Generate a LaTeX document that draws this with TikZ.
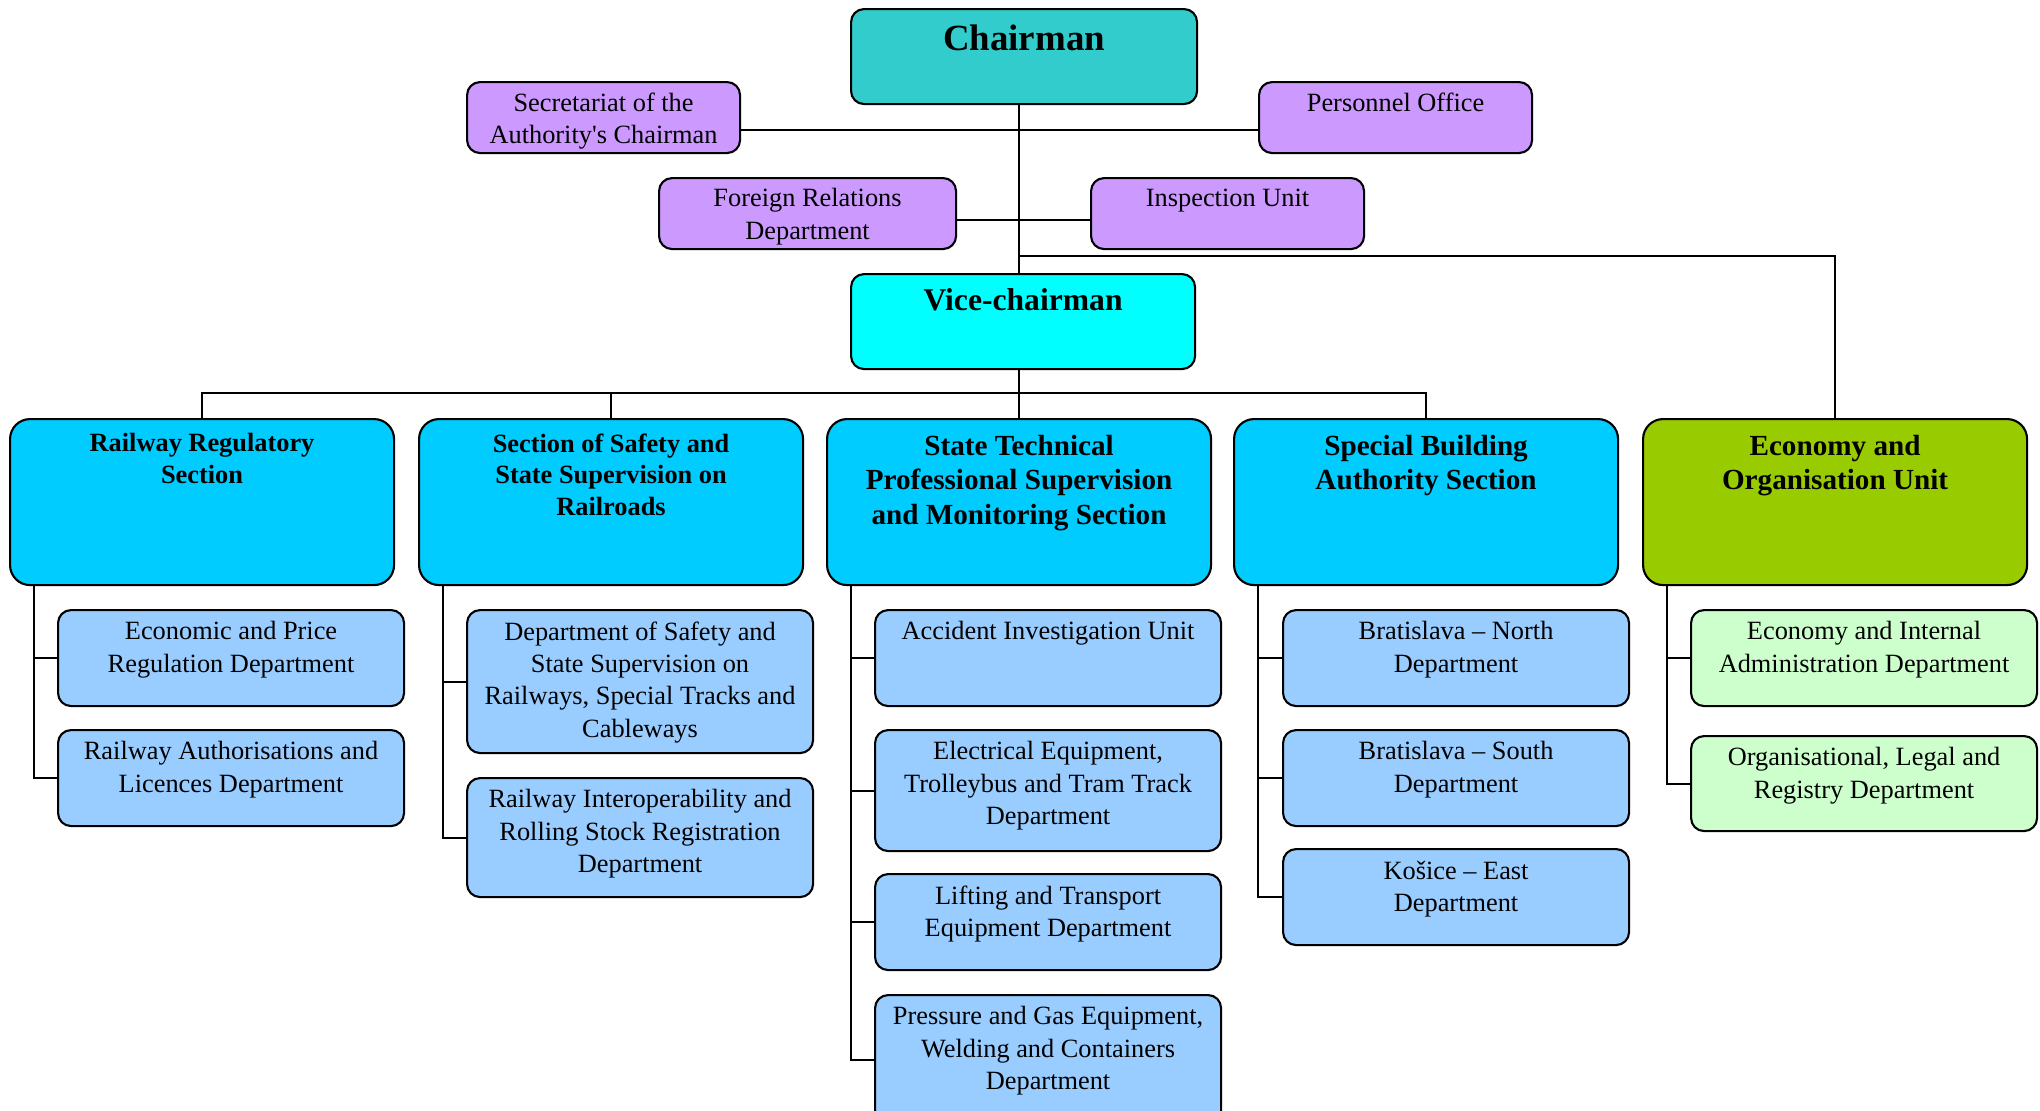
\documentclass[tikz,border=0pt]{standalone}
\usepackage{fontspec}
\setmainfont{Liberation Serif}[Ligatures=TeXOff]
\usetikzlibrary{calc}

\newlength{\px}\setlength{\px}{0.1mm}
% box text: [top gap]{width}{height}{text}, set at the top of the box
\newcommand{\blk}[4][3.3pt]{\parbox[c][#3\px][t]{#2\px}{\centering\vspace*{#1}#4}}

\definecolor{chaircol}{HTML}{33CCCC}
\definecolor{vicecol}{HTML}{00FFFF}
\definecolor{staffcol}{HTML}{CC99FF}
\definecolor{sectcol}{HTML}{00CCFF}
\definecolor{econcol}{HTML}{99CC00}
\definecolor{deptcol}{HTML}{99CCFF}
\definecolor{ecdeptcol}{HTML}{CCFFCC}

\begin{document}
\begin{tikzpicture}
	[x=0.1mm, y=-0.1mm,
	box/.style={draw, line width=0.6pt, inner sep=0, anchor=north west, rounded corners=1.3mm},
	staff/.style={box, fill=staffcol, font=\fontsize{7.5}{9.2}\selectfont},
	sect/.style={box, fill=sectcol, rounded corners=2mm, font=\bfseries\fontsize{7.5}{9}\selectfont},
	bigsect/.style={sect, font=\bfseries\fontsize{8.3}{9.8}\selectfont},
	dept/.style={box, fill=deptcol, font=\fontsize{7.5}{9.2}\selectfont},
	link/.style={line width=0.6pt}]
	\path[use as bounding box, clip] (0,0) rectangle (2040,1110);

	% top management
	\node (chair) [box, fill=chaircol, font=\bfseries\fontsize{10.5}{12}\selectfont] at (850,8)
		{\blk[4.6pt]{346}{95}{Chairman}};
	\node (secr) [staff] at (466,81) {\blk[3pt]{273}{71}{Secretariat of the\\Authority's Chairman}};
	\node (pers) [staff] at (1258,81) {\blk[3pt]{273}{71}{Personnel Office}};
	\node (forn) [staff] at (658,177) {\blk[3pt]{297}{71}{Foreign Relations\\Department}};
	\node (insp) [staff] at (1090,177) {\blk[3pt]{273}{71}{Inspection Unit}};
	\node (vice) [box, fill=vicecol, font=\bfseries\fontsize{9}{11}\selectfont] at (850,273)
		{\blk[4pt]{344}{95}{Vice-chairman}};

	% sections
	\node (rail) [sect] at (9,418) {\blk[4.1pt]{384}{166}{Railway Regulatory\\Section}};
	\node (safe) [sect] at (418,418) {\blk[4.1pt]{384}{166}{Section of Safety and\\State Supervision on\\Railroads}};
	\node (tech) [bigsect] at (826,418) {\blk[4.5pt]{384}{166}{State Technical\\Professional Supervision\\and Monitoring Section}};
	\node (build) [bigsect] at (1233,418) {\blk[4.5pt]{384}{166}{Special Building\\Authority Section}};
	\node (econ) [bigsect, fill=econcol] at (1642,418) {\blk[4.5pt]{384}{166}{Economy and\\Organisation Unit}};

	% departments
	\node (rail1) [dept] at (57,609) {\blk{346}{96}{Economic and Price\\Regulation Department}};
	\node (rail2) [dept] at (57,729) {\blk{346}{96}{Railway Authorisations and\\Licences Department}};
	\node (safe1) [dept] at (466,609) {\blk{346}{143}{Department of Safety and\\State Supervision on\\Railways, Special Tracks and\\Cableways}};
	\node (safe2) [dept] at (466,777) {\blk{346}{119}{Railway Interoperability and\\Rolling Stock Registration\\Department}};
	\node (tech1) [dept] at (874,609) {\blk{346}{96}{Accident Investigation Unit}};
	\node (tech2) [dept] at (874,729) {\blk{346}{121}{Electrical Equipment,\\Trolleybus and Tram Track\\Department}};
	\node (tech3) [dept] at (874,873) {\blk{346}{96}{Lifting and Transport\\Equipment Department}};
	\node (tech4) [dept] at (874,994) {\blk{346}{130}{Pressure and Gas Equipment,\\Welding and Containers\\Department}};
	\node (build1) [dept] at (1282,609) {\blk{346}{96}{Bratislava – North\\Department}};
	\node (build2) [dept] at (1282,729) {\blk{346}{96}{Bratislava – South\\Department}};
	\node (build3) [dept] at (1282,848) {\blk{346}{96}{Košice – East\\Department}};
	\node (econ1) [dept, fill=ecdeptcol] at (1690,609) {\blk{346}{96}{Economy and Internal\\Administration Department}};
	\node (econ2) [dept, fill=ecdeptcol] at (1690,735) {\blk{346}{95}{Organisational, Legal and\\Registry Department}};

	% connectors
	\coordinate (split) at (1018,256);
	\coordinate (bus) at (1018,393);
	\draw[link] (chair.south -| tech.north) -- (vice.north -| tech.north);
	\draw[link] ($(secr.east)+(0,12)$) -- ($(pers.west)+(0,12)$);
	\draw[link] ($(forn.east)+(0,6)$) -- ($(insp.west)+(0,6)$);
	\draw[link] (split) -| (econ.north);
	\draw[link] (vice.south -| tech.north) -- (tech.north);
	\foreach \s in {rail,safe,build}
		\draw[link] (bus) -| (\s.north);
	\foreach \s/\d in {rail/rail1,rail/rail2,safe/safe1,safe/safe2,tech/tech1,tech/tech2,tech/tech3,tech/tech4,
		build/build1,build/build2,build/build3,econ/econ1,econ/econ2}
		\draw[link] ($(\s.south west)+(25,0)$) |- (\d.west);
\end{tikzpicture}
\end{document}
